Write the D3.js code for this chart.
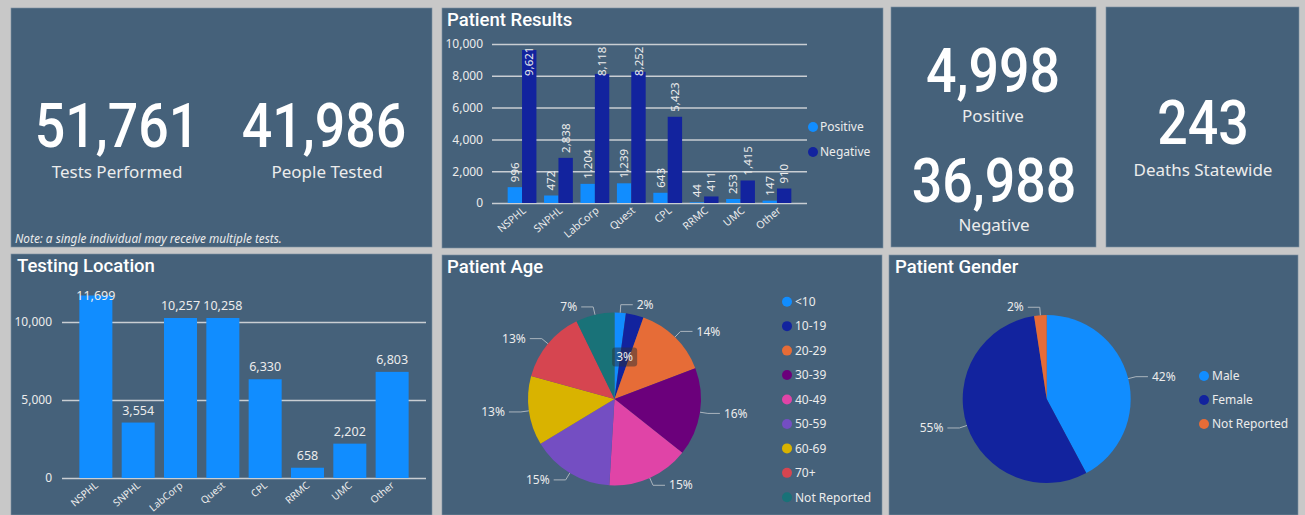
<!DOCTYPE html>
<html lang="en">
<head>
<meta charset="utf-8">
<title>dashboard</title>
<script src="https://cdn.jsdelivr.net/npm/d3@7"></script>
<style>
  body { margin: 0; background: #c8c8c8; }
  text { font-family: "Noto Sans", "Open Sans", sans-serif; fill: #ececec; }
  .big { font-family: Roboto, "DejaVu Sans", sans-serif; font-weight: 500; fill: #fff; }
  .title { font-family: Roboto, "Noto Sans", sans-serif; font-weight: 500; fill: #fff; }
</style>
</head>
<body>
<svg width="1305" height="515"></svg>
<script>
// ---- data ----
const labs = ["NSPHL", "SNPHL", "LabCorp", "Quest", "CPL", "RRMC", "UMC", "Other"];
const positive = [996, 472, 1204, 1239, 643, 44, 253, 147];
const negative = [9621, 2838, 8118, 8252, 5423, 411, 1415, 910];
const tested = [11699, 3554, 10257, 10258, 6330, 658, 2202, 6803];
const resultTicks = [0, 2000, 4000, 6000, 8000, 10000];
const locationTicks = [0, 5000, 10000];
const ageGroups = ["<10", "10-19", "20-29", "30-39", "40-49", "50-59", "60-69", "70+", "Not Reported"];
const ageShares = [2.1, 3.3, 13.7, 16.4, 15.2, 15.3, 12.9, 13.4, 7.2];
const genders = ["Male", "Female", "Not Reported"];
const genderShares = [42.2, 55.4, 2.4];
const testsPerformed = 51761, peopleTested = 41986;
const totalPositive = 4998, totalNegative = 36988, deaths = 243;

const ageColors = ["#118DFF", "#12239E", "#E66C37", "#6B007B", "#E044A7", "#744EC2", "#D9B300", "#D64550", "#197278"];
const genderColors = ["#118DFF", "#12239E", "#E66C37"];
const insideLabels = ["10-19"];

const fmt = d3.format(",");
const pct = d3.format(".0%");
const svg = d3.select("svg");

// ---- panels ----
const panels = [
  [11, 8, 421, 239], [442, 8, 441, 240], [891, 7, 205, 240], [1106, 7, 193, 240],
  [11, 254, 421, 261], [442, 255, 440, 260], [889, 255, 409, 260]
];
svg.selectAll("rect.panel").data(panels).enter().append("rect")
  .attr("class", "panel")
  .attr("x", d => d[0]).attr("y", d => d[1]).attr("width", d => d[2]).attr("height", d => d[3])
  .attr("fill", "#45617a").attr("stroke", "#7d90a2").attr("stroke-width", 0.6);

function bigNumber(x, y, v) {
  svg.append("text").attr("class", "big")
    .attr("transform", "translate(" + x + "," + y + ") scale(0.88,1)")
    .attr("text-anchor", "middle").attr("font-size", 61)
    .text(fmt(v));
}
function caption(x, y, t) {
  svg.append("text").attr("x", x).attr("y", y).attr("text-anchor", "middle")
    .attr("font-size", 17).attr("fill", "#fff").text(t);
}
function title(x, y, t) {
  svg.append("text").attr("class", "title").attr("x", x).attr("y", y)
    .attr("font-size", 18.5).text(t);
}

bigNumber(117, 147, testsPerformed); caption(117, 178, "Tests Performed");
bigNumber(324, 147, peopleTested); caption(327, 178, "People Tested");
bigNumber(993, 92, totalPositive); caption(993, 122, "Positive");
bigNumber(994, 202, totalNegative); caption(994, 231, "Negative");
bigNumber(1203, 144, deaths); caption(1203, 176, "Deaths Statewide");
svg.append("text").attr("x", 15).attr("y", 243).attr("font-size", 11.8)
  .attr("font-style", "italic").attr("fill", "#fff")
  .text("Note: a single individual may receive multiple tests.");

// ---- Patient Results ----
title(447, 26, "Patient Results");
const yR = d3.scaleLinear().domain([0, 10000]).range([203, 44]);
const xR = d3.scaleBand().domain(labs).range([492, 807]).paddingInner(0.21).paddingOuter(0.43);
const xR1 = d3.scaleBand().domain(["Positive", "Negative"]).range([0, xR.bandwidth()]);
const gR = svg.append("g");
gR.append("g").attr("transform", "translate(492,0)")
  .call(d3.axisLeft(yR).tickValues(resultTicks).tickFormat(fmt).tickSize(-315).tickPadding(9))
  .call(g => g.select(".domain").remove())
  .call(g => g.selectAll("line").attr("stroke", "#c9ced3").attr("stroke-width", 1.5))
  .call(g => g.selectAll("text").attr("font-size", 12).attr("fill", "#ececec")
    .attr("font-family", "'Noto Sans', sans-serif"));

const resRows = labs.map((l, i) => ({ lab: l, vals: [
  { key: "Positive", v: positive[i], c: "#118DFF" },
  { key: "Negative", v: negative[i], c: "#12239E" }] }));
const grp = gR.selectAll("g.grp").data(resRows).enter().append("g")
  .attr("transform", d => "translate(" + xR(d.lab) + ",0)");
grp.selectAll("rect").data(d => d.vals).enter().append("rect")
  .attr("x", d => xR1(d.key)).attr("width", xR1.bandwidth())
  .attr("y", d => yR(d.v)).attr("height", d => yR(0) - yR(d.v))
  .attr("fill", d => d.c);
grp.selectAll("text.val").data(d => d.vals).enter().append("text")
  .attr("class", "val").attr("font-size", 11.5).attr("dy", "0.35em")
  .attr("transform", function (d) {
    const w = fmt(d.v).length * 6.4;
    const yy = Math.max(yR(d.v) - 5, yR(10000) + w);
    return "translate(" + (xR1(d.key) + xR1.bandwidth() / 2) + "," + yy + ") rotate(-90)";
  })
  .text(d => fmt(d.v));
gR.selectAll("text.xl").data(labs).enter().append("text")
  .attr("font-size", 10.5).attr("text-anchor", "end").attr("dy", "0.7em")
  .attr("transform", d => "translate(" + (xR(d) + xR.bandwidth() / 2) + ",206) rotate(-40)")
  .text(d => d);
const legR = gR.selectAll("g.leg").data(["Positive", "Negative"]).enter().append("g")
  .attr("transform", (d, i) => "translate(813," + (127 + i * 25) + ")");
legR.append("circle").attr("r", 5).attr("fill", (d, i) => i ? "#12239E" : "#118DFF");
legR.append("text").attr("x", 7).attr("dy", "0.35em").attr("font-size", 12).text(d => d);

// ---- Testing Location ----
title(17, 272, "Testing Location");
const yL = d3.scaleLinear().domain([0, 10000]).range([478, 322]);
const xL = d3.scaleBand().domain(labs).range([62, 426]).paddingInner(0.22).paddingOuter(0.41);
const gL = svg.append("g");
gL.append("g").attr("transform", "translate(62,0)")
  .call(d3.axisLeft(yL).tickValues(locationTicks).tickFormat(fmt).tickSize(-364).tickPadding(10))
  .call(g => g.select(".domain").remove())
  .call(g => g.selectAll("line").attr("stroke", "#c9ced3").attr("stroke-width", 1.5))
  .call(g => g.selectAll("text").attr("font-size", 12).attr("fill", "#ececec")
    .attr("font-family", "'Noto Sans', sans-serif"));
gL.selectAll("rect").data(tested).enter().append("rect")
  .attr("x", (d, i) => xL(labs[i])).attr("width", xL.bandwidth())
  .attr("y", d => yL(d)).attr("height", d => yL(0) - yL(d)).attr("fill", "#118DFF");
gL.selectAll("text.val").data(tested).enter().append("text")
  .attr("font-size", 12.5).attr("text-anchor", "middle")
  .attr("x", (d, i) => xL(labs[i]) + xL.bandwidth() / 2)
  .attr("y", d => Math.max(yL(d) - 8, 300))
  .text(d => fmt(d));
gL.selectAll("text.xl").data(labs).enter().append("text")
  .attr("font-size", 10).attr("text-anchor", "end").attr("dy", "0.45em")
  .attr("transform", d => "translate(" + (xL(d) + xL.bandwidth() / 2) + ",483) rotate(-40)")
  .text(d => d);

// ---- pies ----
function pieChart(cx, cy, r, names, shares, colors, legX, legY, legStep) {
  const g = svg.append("g").attr("transform", "translate(" + cx + "," + cy + ")");
  const total = d3.sum(shares);
  const arcs = d3.pie().sort(null).value(d => d)(shares);
  const arc = d3.arc().innerRadius(0).outerRadius(r);
  g.selectAll("path").data(arcs).enter().append("path")
    .attr("d", arc).attr("fill", (d, i) => colors[i]);
  arcs.forEach((a, i) => {
    const m = (a.startAngle + a.endAngle) / 2;
    const s = Math.sin(m), c = -Math.cos(m);
    const label = pct(a.value / total);
    if (insideLabels.includes(names[i])) {
      const px = s * r * 0.5, py = c * r * 0.5;
      g.append("rect").attr("x", px - 12.5).attr("y", py - 9.5).attr("width", 25).attr("height", 19)
        .attr("rx", 3).attr("fill", "#2b2f3a").attr("opacity", 0.5);
      g.append("text").attr("x", px).attr("y", py).attr("dy", "0.35em").attr("text-anchor", "middle")
        .attr("font-size", 12).text(label);
      return;
    }
    const dir = s >= 0 ? 1 : -1;
    const p1 = [s * r, c * r], p2 = [s * (r + 8), c * (r + 8)], p3 = [p2[0] + dir * 12, p2[1]];
    g.append("polyline").attr("points", [p1, p2, p3].map(p => p.join(",")).join(" "))
      .attr("fill", "none").attr("stroke", "#aab4bd").attr("stroke-width", 1);
    g.append("text").attr("x", p3[0] + dir * 4).attr("y", p3[1]).attr("dy", "0.35em")
      .attr("text-anchor", dir > 0 ? "start" : "end").attr("font-size", 12).text(label);
  });
  const leg = svg.selectAll(null).data(names).enter().append("g")
    .attr("transform", (d, i) => "translate(" + legX + "," + (legY + i * legStep) + ")");
  leg.append("circle").attr("r", 5).attr("fill", (d, i) => colors[i]);
  leg.append("text").attr("x", 8).attr("dy", "0.35em").attr("font-size", 12).text(d => d);
}

title(447, 273, "Patient Age");
pieChart(614.5, 399, 86.5, ageGroups, ageShares, ageColors, 787, 301.7, 24.45);
title(895, 273, "Patient Gender");
pieChart(1046.7, 399, 84, genders, genderShares, genderColors, 1204, 376, 24);
</script>
</body>
</html>
